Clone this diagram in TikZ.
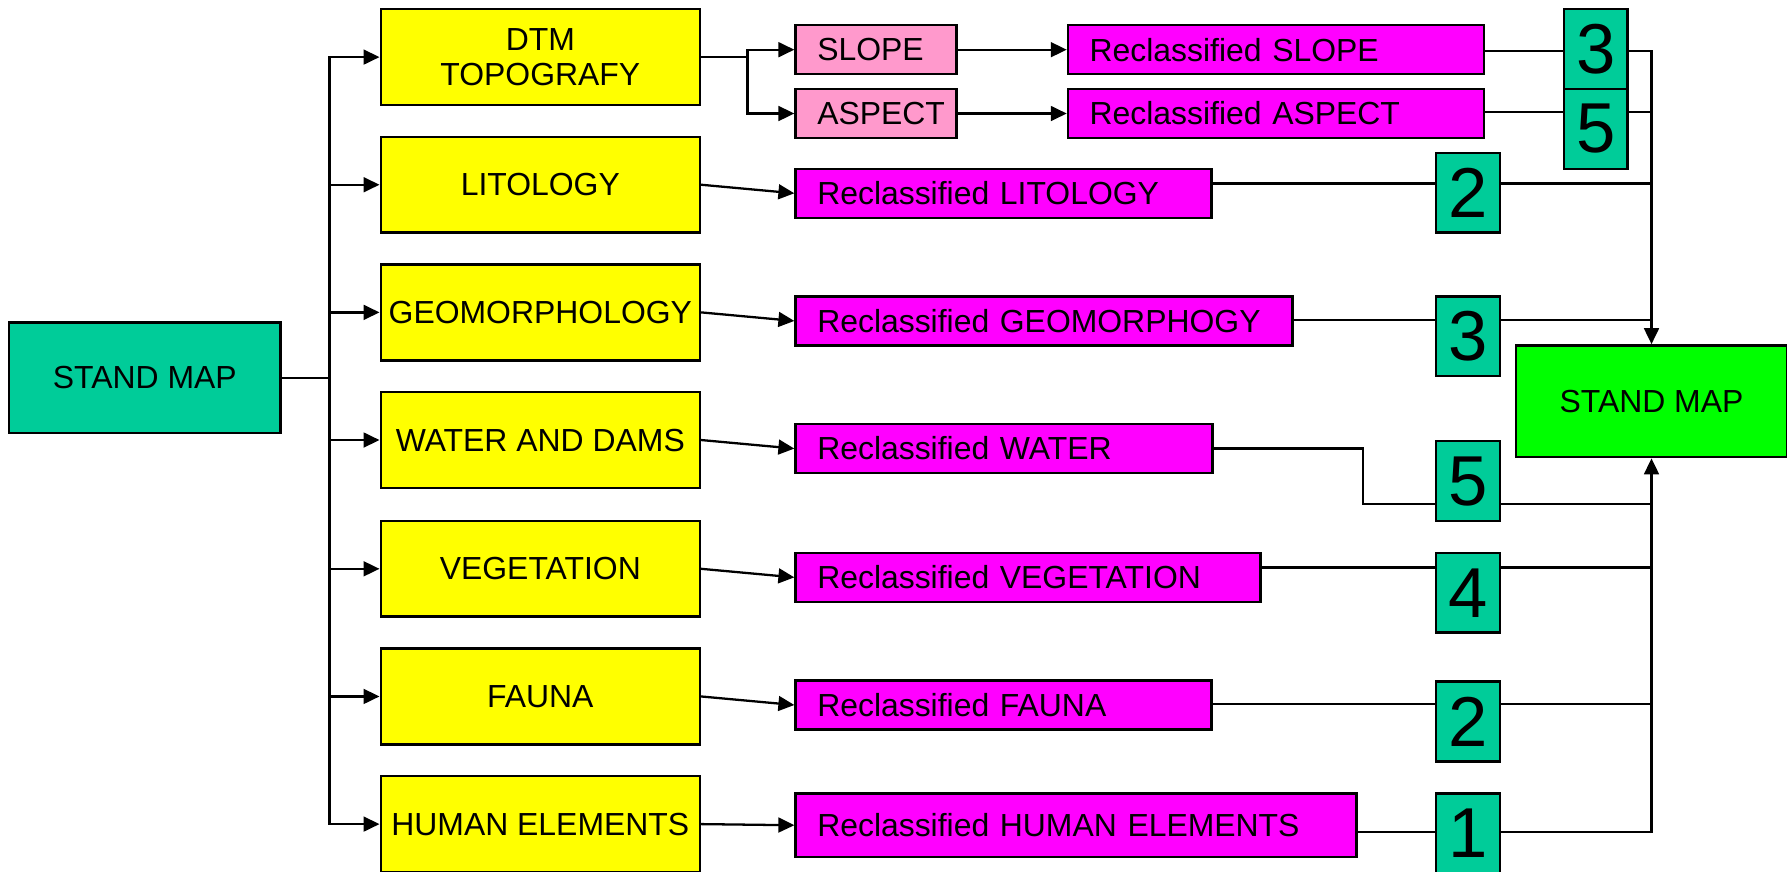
\documentclass[tikz,border=0pt]{standalone}
\usepackage{fontspec}
\setmainfont{Liberation Sans}
\usetikzlibrary{arrows.meta}
\definecolor{tealbox}{HTML}{00CC99}
\definecolor{yelbox}{HTML}{FFFF00}
\definecolor{magbox}{HTML}{FF00FF}
\definecolor{pinkbox}{HTML}{FF99CC}
\definecolor{grnbox}{HTML}{00FF00}
\begin{document}
\begin{tikzpicture}[x=1pt,y=-1pt,
  font=\fontsize{28}{30}\selectfont,
  basebox/.style={draw=black, line width=2.2pt, inner sep=0pt, anchor=north west},
  yb/.style={basebox, fill=yelbox, minimum width=280pt, minimum height=84pt, align=center},
  rb/.style={basebox, fill=magbox, minimum height=43pt, align=left, inner xsep=19pt},
  pb/.style={rb, fill=pinkbox, text width=103pt},
  nb/.style={basebox, fill=tealbox, minimum width=56pt, minimum height=70pt, font=\fontsize{62}{62}\selectfont},
  conn/.style={line width=2pt},
  arr/.style={conn, -{Triangle[length=14pt,width=13pt]}}
]
\useasboundingbox (0,0) rectangle (1568,765);
% left source
\node[basebox, fill=tealbox, minimum width=238pt, minimum height=97pt] (sm1) at (7,282) {STAND MAP};
% yellow themes
\node[yb] (dtm) at (333,7) {DTM\\TOPOGRAFY};
\node[yb] (lit) at (333,119) {LITOLOGY};
\node[yb] (geo) at (333,231) {GEOMORPHOLOGY};
\node[yb] (wat) at (333,343) {WATER AND DAMS};
\node[yb] (veg) at (333,456) {VEGETATION};
\node[yb] (fau) at (333,568) {FAUNA};
\node[yb] (hum) at (333,680) {HUMAN ELEMENTS};
% pink
\node[pb] (slope) at (697,21) {SLOPE};
\node[pb] (aspect) at (697,77) {ASPECT};
% reclassified
\node[rb, text width=327pt] (rs) at (936,21) {Reclassified SLOPE};
\node[rb, text width=327pt] (ra) at (936,77) {Reclassified ASPECT};
\node[rb, text width=327pt] (rl) at (697,147) {Reclassified LITOLOGY};
\node[rb, text width=398pt] (rg) at (697,259) {Reclassified GEOMORPHOGY};
\node[rb, text width=328pt] (rw) at (697,371) {Reclassified WATER};
\node[rb, text width=370pt] (rv) at (697,484) {Reclassified VEGETATION};
\node[rb, text width=327pt] (rf) at (697,596) {Reclassified FAUNA};
\node[rb, text width=454pt, minimum height=56pt] (rh) at (697,695) {Reclassified HUMAN ELEMENTS};
% weights
\node[nb] (n1) at (1371,7) {3};
\node[nb] (n2) at (1371,77) {5};
\node[nb] (n3) at (1259,133) {2};
\node[nb] (n4) at (1259,259) {3};
\node[nb] (n5) at (1259,386) {5};
\node[nb] (n6) at (1259,484) {4};
\node[nb] (n7) at (1259,597) {2};
\node[nb] (n8) at (1259,695) {1};
% result
\node[basebox, fill=grnbox, minimum width=238pt, minimum height=98pt] (sm2) at (1329,302) {STAND MAP};

% trunk
\coordinate (tr) at (sm1.east -| 289,0);
\draw[conn] (sm1.east) -- (tr);
\foreach \t in {dtm,lit,geo,wat,veg,fau,hum}
  \draw[arr] (tr) |- (\t.west);
% DTM split
\coordinate (sp) at (dtm.east -| 656,0);
\draw[conn] (dtm.east) -- (sp);
\draw[arr] (sp) |- (slope.west);
\draw[arr] (sp) |- (aspect.west);
\draw[arr] (slope) -- (rs);
\draw[arr] (aspect) -- (ra);
% yellow to reclassified
\draw[arr] (lit.east) -- (rl.west);
\draw[arr] (geo.east) -- (rg.west);
\draw[arr] (wat.east) -- (rw.west);
\draw[arr] (veg.east) -- (rv.west);
\draw[arr] (fau.east) -- (rf.west);
\draw[arr] (hum.east) -- (rh.west);
% reclassified to weights to result
\draw[conn] (rs.east |- 0,45) -- (n1.west |- 0,45);
\draw[conn] (n1.east |- 0,45) -- (sm2.north |- 0,45);
\draw[conn] (ra.east |- 0,98) -- (n2.west |- 0,98);
\draw[conn] (n2.east |- 0,98) -- (sm2.north |- 0,98);
\draw[conn] (rl.east |- 0,161) -- (n3.west |- 0,161);
\draw[conn] (n3.east |- 0,161) -- (sm2.north |- 0,161);
\draw[conn] (rg.east |- 0,281) -- (n4.west |- 0,281);
\draw[conn] (n4.east |- 0,281) -- (sm2.north |- 0,281);
\coordinate (wk) at (1196,442);
\draw[conn] (rw.east) -| (wk) -- (n5.west |- wk);
\draw[conn] (n5.east |- 0,442) -- (sm2.south |- 0,442);
\draw[conn] (rv.east |- 0,498) -- (n6.west |- 0,498);
\draw[conn] (n6.east |- 0,498) -- (sm2.south |- 0,498);
\draw[conn] (rf.east |- 0,618) -- (n7.west |- 0,618);
\draw[conn] (n7.east |- 0,618) -- (sm2.south |- 0,618);
\draw[conn] (rh.east |- 0,730) -- (n8.west |- 0,730);
\draw[conn] (n8.east |- 0,730) -- (sm2.south |- 0,730);
% verticals into result
\draw[arr] (sm2.north |- 0,44) -- (sm2.north);
\draw[arr] (sm2.south |- 0,731) -- (sm2.south);
\end{tikzpicture}
\end{document}
